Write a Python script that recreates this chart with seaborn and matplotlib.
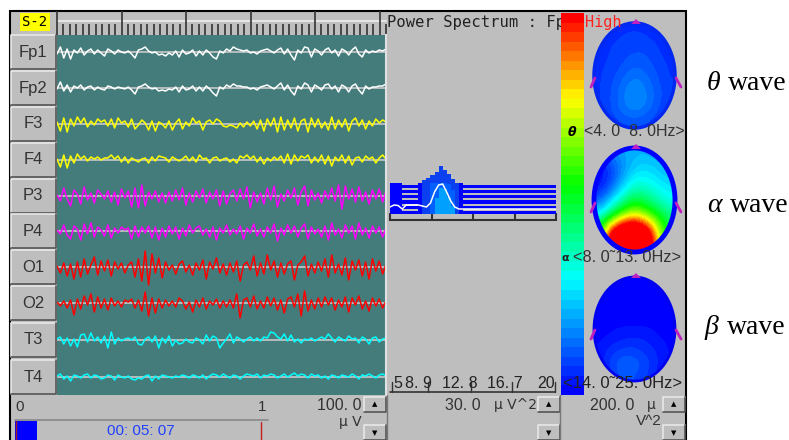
import numpy as np
import pandas as pd
import seaborn as sns
import matplotlib.pyplot as plt
from matplotlib.colors import LinearSegmentedColormap
from matplotlib.patches import Ellipse, Rectangle
from matplotlib.ticker import MultipleLocator

W, H = 789, 440

channels = ['Fp1', 'Fp2', 'F3', 'F4', 'P3', 'P4', 'O1', 'O2', 'T3', 'T4']
colors = ['white', 'white', '#ffff00', '#ffff00', '#ff00ff', '#ff00ff', '#ff0000', '#ff0000', '#00ffff', '#00ffff']
baselines = [17, 53, 89, 125, 161, 196, 232, 268, 305, 342]

fp1 = [-2, 5, -6, 3, -7, 2, -1, 4, -3, 1, 3, -2, 2, -1, -4, 3, 1, -2, 2, 0, -1, 1, -2, -6, 2, 3, 5, 1, -1, 0, -3, -2, -4, -1, -3, 1, -5, 2, -2, -1, 2, -4, 1, -3, 2, -1, -5, -7, 1, -1, 3, 1, 5, 3, 2, 1, 2, -1, 0, -2, 1, 2, 3, 1, -1, 2, 4, -2, 3, -3, -8, 2, -1, 5, 4, -5, 3, 1, -3, 2, 4, -1, 2, -4, 3, 1, -3, 2, 5, -2, -5, 2, -1, 1, 0, 2, 1, 3]
fp2 = [-1, 6, -3, 3, -4, 2, 0, 3, -2, 1, 2, -2, 1, -1, -2, 2, 1, -1, 1, 0, -1, 1, -2, -6, 1, 2, 4, 1, -1, 0, -3, -2, -3, -1, -2, 1, -4, 2, -2, -1, 2, -3, 1, -3, 2, -1, -5, -8, 1, -1, 3, 1, 4, 2, 2, 1, 1, -1, 0, -2, 1, 2, 3, 1, -1, 2, 5, -2, 3, -3, -7, 2, -1, 5, 3, -4, 3, 1, -2, 3, 4, -1, 2, -4, 3, 1, -4, 2, 4, -2, -6, 2, -1, 1, 1, 2, 2, 4]
f3 = [2, -7, 6, -8, 5, -2, 7, 1, 6, -3, 3, -1, 5, 2, 4, -2, 5, -4, 6, 1, 3, -3, 5, -5, -1, 4, 1, -6, 3, -7, 2, 0, -4, 3, -6, 1, 5, -5, 2, -2, 6, 1, 3, -6, 2, 4, 0, 5, 3, -2, -3, -1, -2, -4, 1, -3, 2, -2, 3, -5, 4, -7, 5, -2, 6, -8, 7, -6, 4, -4, 6, -7, 3, 5, -8, 6, -3, 5, -4, 2, -6, 7, -5, 4, -3, 5, -7, 3, 6, -2, 4, -5, 3, -2, 5, 1, 4, 2]
f4 = [1, -7, 5, -8, 4, -3, 6, 1, 4, -1, 3, 1, 3, 0, 2, 2, 5, 1, 4, -2, 3, -3, 2, 0, -2, 1, 2, -3, 3, -1, 4, 3, 2, -2, 3, 1, -1, 1, 4, -1, 3, -2, 5, 1, 2, -3, 2, 3, -1, 1, 2, -2, 1, -3, 4, 2, 5, 1, 4, -2, 3, -4, 2, -1, 3, 0, 4, -3, 6, -4, 5, -1, 4, 2, 5, -3, 3, -2, 5, -4, 4, -6, 3, -1, 5, -3, 4, -5, 2, 3, -2, 4, 1, 3, -3, 2, 5, 1]
p3 = [1, -5, 8, -3, -10, 6, 2, -8, 9, -4, 3, -7, 6, 2, -3, 5, -6, 4, -9, 7, -2, 5, -11, 8, -12, 11, -10, 4, -3, 5, -6, 3, -7, 4, -5, 6, -4, 8, -9, 3, -6, 5, -2, 7, -7, 4, -3, 6, -10, 5, -8, 2, 6, -5, 7, -3, 9, -12, 4, -6, 3, -8, 8, -4, 10, -11, 2, -5, 6, -2, 8, -9, 4, 10, -10, 6, -4, 3, -7, 5, -3, 8, -5, 11, -13, 10, -3, 7, -6, 9, -5, 4, -8, 6, -3, 7, -6, 5]
p4 = [1, -3, 6, -4, -8, 5, 2, -9, 7, -3, 8, -6, 4, 1, -5, 6, -7, 3, -2, 4, 1, 3, -8, 5, -6, 4, -2, 5, -7, 4, -9, 3, -6, 5, -3, 4, -8, 3, -5, 6, -2, 3, 5, -4, 2, -6, 4, -9, 3, -2, 6, -4, 2, -3, 5, -8, 3, -2, 7, -5, 2, -6, 4, -2, 7, -10, 3, -4, 6, -2, 5, -6, 3, 7, -8, 4, -3, 2, -6, 5, -9, 8, -4, 2, -7, 6, -2, 5, -8, 8, -4, 3, -7, 5, -2, 4, -6, 3]
o1 = [1, -6, 4, -9, 3, -12, 5, -10, 8, -7, 2, 10, -8, 6, -4, 7, -9, 5, -2, 4, -6, 2, 5, -10, 8, -14, 16, -18, 13, -6, 9, -11, 5, -3, 2, -7, 3, 6, -5, 2, -8, 4, -3, 7, -12, 5, -2, 9, -6, 3, -8, 4, -5, 6, -14, 2, 5, -3, 11, -9, 4, -7, 12, -3, 6, -10, 4, -7, 3, 6, -13, 2, 5, 11, -9, 3, -6, 5, -4, 8, -10, 12, -6, 3, -8, 9, -13, 6, -3, 7, -9, 5, -12, 8, -4, 6, -7, 3]
o2 = [1, -3, 2, -5, 3, -12, 4, -6, 7, -2, 9, -9, 6, -5, 4, -7, 5, -3, 2, -4, 3, 1, 4, -5, 3, -8, 11, -13, 5, -10, 4, -5, 3, -3, 2, -4, 5, 2, -6, 1, -9, 3, -4, 5, -6, 2, -2, 4, -5, 2, -4, 3, -5, 9, -15, 3, 5, -4, 7, -6, 2, -5, 6, -3, 5, -7, 3, -10, 4, 6, -4, 9, -13, 12, -8, 3, -6, 5, -4, 6, -2, 5, -7, 3, -4, 6, -9, 5, -2, 7, -6, 2, -8, 5, -3, 4, -5, 2]
t3 = [1, 3, -4, 2, -6, 1, -7, 5, 6, -2, 7, -1, 3, -3, 4, -8, 8, -4, 2, -1, 1, 2, 0, 3, -4, -5, 1, 3, -2, 4, -8, 2, -3, 4, -6, 0, -4, -3, 1, -2, -3, 2, 0, -4, 5, -1, 4, 2, -8, -3, 1, 6, -3, 3, 1, -2, 1, 3, -1, 2, -1, 3, 2, 8, 7, 3, 1, 6, -1, 5, -2, 1, -3, 1, 0, 2, -1, 1, 3, 1, 6, 2, -2, 3, 1, -1, 4, 1, 2, -3, 3, 1, -4, 2, 3, -2, 1, 2]
t4 = [1, 3, -2, 1, -4, 2, 1, -1, 2, 3, -1, 2, 1, -2, -1, 2, 1, -3, 2, 0, -1, 1, -2, -3, -1, -2, 1, 2, -4, 1, -2, 2, 1, 0, -1, 1, 0, 2, 1, -1, 2, 1, -1, 2, -2, 1, 3, 2, 0, 3, 1, -1, 2, 1, -2, 1, 3, 2, 1, 3, -1, 2, 1, 3, 2, -1, 1, 3, 0, 2, 4, 1, 3, 2, -1, 3, 1, 2, -1, 1, -2, 2, 1, -1, 2, 1, 0, 3, 1, -2, 2, 1, 3, 1, -1, 2, 3, 1]
traces = [fp1, fp2, f3, f4, p3, p4, o1, o2, t3, t4]

spec_rows = [5, 5, 5, 3, 3, 3, 3, 5, 5, 5, 5, 5, 5, 5, 5, 5, 3, 5] + [3] * 24
spec_outer = [0] * 8 + [34, 36, 39, 42, 48, 44, 40, 35, 31] + [0] * 25
spec_mid = [0] * 10 + [31, 31, 31, 31, 30, 24] + [0] * 26
spec_inner = [0] * 11 + [16, 26, 25, 17, 8] + [0] * 26
spec_line = [7, 9, 8.5, 5, 9, 9, 9, 9, 8, 7, 11, 22, 29, 30, 22, 13, 7] + [5] * 25
freq_ticks = [5, 8.75, 12.5, 16.25, 20]
freq_labels = ['5', '8. 9', '12. 8', '16. 7', '20']

theta_map = [
    [.06, .06, .07, .07, .07, .06, .06],
    [.06, .07, .08, .09, .08, .07, .06],
    [.06, .08, .09, .10, .10, .08, .06],
    [.07, .08, .10, .12, .11, .09, .07],
    [.07, .09, .12, .15, .13, .10, .07],
    [.07, .10, .14, .18, .15, .11, .08],
    [.07, .10, .15, .19, .16, .11, .08],
    [.07, .10, .14, .16, .14, .10, .07],
    [.06, .08, .10, .11, .10, .08, .06],
]
alpha_map = [
    [.12, .16, .20, .22, .22, .20, .18],
    [.04, .10, .18, .24, .26, .24, .20],
    [.02, .08, .20, .30, .30, .27, .24],
    [.04, .14, .28, .38, .36, .32, .28],
    [.12, .26, .40, .50, .46, .38, .32],
    [.26, .42, .58, .70, .60, .50, .40],
    [.45, .75, .98, 1.05, .92, .66, .46],
    [.55, 1.1, 1.3, 1.3, 1.2, .78, .50],
    [.60, 1.2, 1.4, 1.4, 1.2, .85, .50],
]
beta_map = [
    [.00, .00, .00, .00, .00, .00, .00],
    [.00, .00, .00, .00, .00, .00, .00],
    [.00, .00, .00, .00, .00, .00, .00],
    [.00, .01, .01, .01, .01, .01, .00],
    [.01, .02, .03, .03, .03, .02, .01],
    [.02, .04, .05, .06, .05, .03, .02],
    [.03, .07, .09, .09, .07, .05, .02],
    [.03, .09, .13, .12, .09, .05, .02],
    [.03, .08, .11, .10, .08, .04, .02],
]
scale_stops = [(0, '#0000ff'), (.30, '#00ffff'), (.55, '#00ff00'), (.78, '#ffff00'), (1, '#ff0000')]

GRAY = '#bebebe'
sns.set_theme(style='white')
plt.rcParams['font.family'] = ['Liberation Sans', 'DejaVu Sans']

fig = plt.figure(figsize=(W / 100, H / 100), dpi=100, facecolor='white')


def px_axes(x0, y0, x1, y1, z=1):
    a = fig.add_axes([x0 / W, 1 - y1 / H, (x1 - x0) / W, (y1 - y0) / H], zorder=z)
    return a


def raised(a, x, y, w, h):
    a.add_patch(Rectangle((x, y), w, h, fc=GRAY, ec='none'))
    a.plot([x, x, x + w], [y + h, y, y], color='#e8e8e8', lw=1.2)
    a.plot([x, x + w, x + w], [y + h, y + h, y], color='#555555', lw=1.2)


def spin(a, x, y0, y1):
    raised(a, x, y0, 22, 15)
    raised(a, x, y1, 22, 15)
    a.text(x + 11, y0 + 7, '▲', fontsize=5, ha='center', va='center', color='black', family='DejaVu Sans')
    a.text(x + 11, y1 + 8, '▼', fontsize=5, ha='center', va='center', color='black', family='DejaVu Sans')


root = px_axes(0, 0, W, H, 0)
root.set_xlim(0, W)
root.set_ylim(H, 0)
root.axis('off')
root.add_patch(Rectangle((10, 11), 676, 440, fc=GRAY, ec='black', lw=1.5))
root.text(387, 23, 'Power Spectrum : Fp', family='DejaVu Sans Mono', fontsize=11.2, ha='left', va='center', color='#222222')

# channel buttons
for name, base in zip(channels, baselines):
    raised(root, 11, base + 35 - 17, 45, 34)
    root.text(33, base + 35, name, fontsize=12, ha='center', va='center', color='#333333')
root.text(35, 22, 'S-2', family='DejaVu Sans Mono', fontsize=10, ha='center', va='center', color='black',
          bbox=dict(fc='#ffff00', ec='none', pad=1.5))

# eeg traces
eeg = px_axes(57, 35, 386, 395)
eeg.set_facecolor('#447c7c')
for vals, base, col in zip(traces, baselines, colors):
    df = pd.DataFrame({'t': np.arange(len(vals)) * 5.1 / (len(vals) - 1), 'v': base - np.array(vals)})
    eeg.axhline(base, color='#c8c8c8', lw=1.2, zorder=1)
    sns.lineplot(data=df, x='t', y='v', color=col, lw=1.1, ax=eeg, legend=False, estimator=None, sort=False, zorder=2)
eeg.set_xlim(0, 5.1)
eeg.set_ylim(360, 0)
eeg.set(xlabel='', ylabel='')
eeg.set_yticks([])
eeg.xaxis.set_major_locator(MultipleLocator(1))
eeg.xaxis.set_minor_locator(MultipleLocator(0.1))
eeg.tick_params(axis='x', which='both', top=True, bottom=False, labeltop=False, labelbottom=False, color='#333333', width=1.2)
eeg.tick_params(axis='x', which='major', length=17)
eeg.tick_params(axis='x', which='minor', length=8)
sns.despine(ax=eeg, left=True, bottom=True, right=False, top=True)
eeg.spines['right'].set_color('#e0e0e0')
eeg.spines['right'].set_linewidth(1.5)
root.plot([57, 386], [21, 21], color='#e6e6e6', lw=1.5)

# spectrum
spec = px_axes(390, 164, 556, 214)
spec.patch.set_alpha(0)
fx = 5 + np.arange(len(spec_rows)) * 15 / (len(spec_rows) - 1)
for r in range(6):
    low = r * 5.2
    top_edge = low + np.where(np.array(spec_rows) == 5, 5.4, 3.2)
    spec.fill_between(fx, low, top_edge, step='post', color='#0000ff', lw=0)
spec.fill_between(fx, 0, spec_outer, step='post', color='#0a40f0', lw=0)
spec.fill_between(fx, 0, spec_mid, step='post', color='#0060ff', lw=0)
spec.fill_between(fx, 0, spec_inner, step='post', color='#00a0ff', lw=0)
sns.lineplot(x=fx, y=spec_line, color='white', lw=1.1, ax=spec, legend=False, estimator=None)
spec.set_xlim(5, 20)
spec.set_ylim(0, 50)
spec.set_yticks([])
spec.set_xticks(freq_ticks)
spec.set_xticklabels([])
spec.tick_params(axis='x', direction='in', length=5, width=1.5, color='#333333', bottom=True)
sns.despine(ax=spec, left=True, right=True, top=True)
spec.spines['bottom'].set_position(('outward', 4))
spec.spines['bottom'].set_color('#333333')
spec.spines['bottom'].set_linewidth(1.5)

# colour scale
cmap = LinearSegmentedColormap.from_list('scale', scale_stops).resampled(40)
bar = px_axes(561, 13, 584, 395, 2)
sns.heatmap(np.arange(40)[::-1].reshape(-1, 1), cmap=cmap, cbar=False, xticklabels=False, yticklabels=False, ax=bar)

# overlay text
top = px_axes(0, 0, W, H, 5)
top.set_xlim(0, W)
top.set_ylim(H, 0)
top.axis('off')

# scalp maps
maps = [(theta_map, 23, 128, '#0028f0', 2.5, 55), (alpha_map, 148, 252, '#0000ff', 3.5, 55), (beta_map, 277, 381, '#0000f0', 2.0, 53)]
for grid, y0, y1, ring, ring_w, ear in maps:
    m = px_axes(594, y0, 675, y1, 2)
    m.axis('off')
    clip = Ellipse((.5, .5), 1, 1, transform=m.transAxes, fc='none', ec=ring, lw=ring_w, clip_on=False)
    m.add_patch(clip)
    im = m.imshow(grid, cmap=LinearSegmentedColormap.from_list('m', scale_stops).resampled(40), vmin=0, vmax=1, aspect='auto',
                  interpolation='bicubic', interpolation_stage='data')
    im.set_clip_path(clip)
    top.plot([595, 591], [y0 + ear, y0 + ear + 9], color='#c020c0', lw=2)
    top.plot([676, 681], [y0 + ear, y0 + ear + 9], color='#c020c0', lw=2)
    top.fill([631, 636, 641], [y0 + 1, y0 - 4, y0 + 1], color='#c020c0', lw=0)

top.text(585, 23, 'High', family='DejaVu Sans Mono', fontsize=11, color='#ff2020', ha='left', va='center')
top.text(572, 132, 'θ', family='DejaVu Sans', fontsize=9, weight='bold', style='italic', color='black', ha='center', va='center')
top.text(584, 132, '<4. 0  8. 0Hz>', fontsize=11.5, color='#333333', ha='left', va='center')
top.text(565, 258, 'α', family='DejaVu Sans', fontsize=8, weight='bold', color='#222222', ha='center', va='center')
top.text(573, 258, '<8. 0˜13. 0Hz>', fontsize=11.8, color='#333333', ha='left', va='center', family=['Liberation Sans', 'DejaVu Sans'])
top.text(563, 384, '<14. 0˜25. 0Hz>', fontsize=12, color='#222222', ha='left', va='center', family=['Liberation Sans', 'DejaVu Sans'])
for lab, lx in zip(freq_labels, [393, 405, 442, 487, 537]):
    top.text(lx, 384, lab, fontsize=11.5, color='#222222', ha='left', va='center')
top.plot([390, 555], [392, 392], color='#333333', lw=1.2)
for tx in [392, 428, 471, 512, 555]:
    top.plot([tx, tx], [382, 392], color='#333333', lw=1)

# bottom controls
top.text(20, 407, '0', fontsize=11, color='#333333', ha='center', va='center')
top.text(262, 407, '1', fontsize=11, color='#333333', ha='center', va='center')
top.text(362, 405, '100. 0', fontsize=11.5, color='#333333', ha='right', va='center')
top.text(362, 422, 'μ V', fontsize=10, color='#333333', ha='right', va='center', family='DejaVu Sans')
top.text(481, 405, '30. 0', fontsize=11.5, color='#333333', ha='right', va='center')
top.text(537, 405, 'μ V^2', fontsize=10, color='#333333', ha='right', va='center', family='DejaVu Sans')
top.text(634, 405, '200. 0', fontsize=11.5, color='#333333', ha='right', va='center')
top.text(651, 405, 'μ', fontsize=10, color='#333333', ha='center', va='center', family='DejaVu Sans')
top.text(662, 421, 'V^2', fontsize=11, color='#333333', ha='right', va='center')
spin(top, 364, 397, 425)
spin(top, 538, 397, 425)
spin(top, 663, 397, 425)
top.plot([387, 387], [395, 440], color='#777777', lw=1)
top.plot([560, 560], [395, 440], color='#777777', lw=1)
top.plot([15, 268], [420, 420], color='#888888', lw=1.2)
top.add_patch(Rectangle((15, 421), 22, 19, fc='#0000ff', ec='none'))
top.plot([16, 16], [421, 440], color='#a02020', lw=1)
top.plot([261, 261], [422, 440], color='#c02020', lw=1)
top.text(141, 431, '00: 05: 07', fontsize=11, color='#2040ff', ha='center', va='center')

# labels outside the panel
for sym, x_sym, x_word, y in [('θ', 707, 728, 83), ('α', 707, 730, 205), ('β', 704, 727, 328)]:
    top.text(x_sym, y, sym, family='Liberation Serif', style='italic', fontsize=20, color='black', ha='left', va='center')
    top.text(x_word, y, 'wave', family='Liberation Serif', fontsize=20, color='black', ha='left', va='center')

fig.savefig('out.png', dpi=100)
